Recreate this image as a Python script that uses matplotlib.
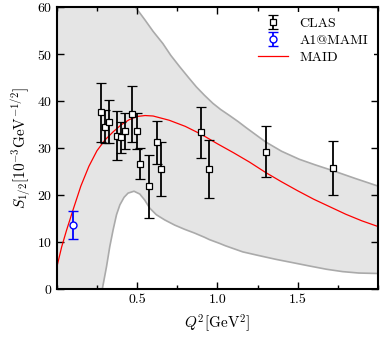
import numpy as np
import matplotlib
matplotlib.use('Agg')
import matplotlib.pyplot as plt
from matplotlib.ticker import MultipleLocator

plt.rcParams['font.family'] = 'serif'
plt.rcParams['font.serif'] = ['cmr10', 'DejaVu Serif']
plt.rcParams['mathtext.fontset'] = 'cm'
plt.rcParams['axes.formatter.use_mathtext'] = True

# CLAS data
clas_q2 = [0.273, 0.30, 0.324, 0.372, 0.397, 0.424, 0.471, 0.50, 0.521, 0.573, 0.624, 0.647, 0.90, 0.951, 1.30, 1.72]
clas_s = [37.7, 34.6, 35.7, 32.7, 32.4, 33.7, 37.3, 33.7, 26.7, 22.0, 31.3, 25.6, 33.4, 25.6, 29.3, 25.9]
clas_err = [6.3, 3.5, 4.6, 5.2, 3.3, 3.8, 6.0, 3.9, 3.3, 6.7, 4.6, 5.8, 5.4, 6.2, 5.4, 5.7]

# A1@MAMI
mami_q2 = [0.1]
mami_s = [13.8]
mami_err = [3.0]

# MAID curve
maid_q2 = [0.0, 0.03, 0.06, 0.1, 0.15, 0.2, 0.25, 0.3, 0.35, 0.4, 0.45, 0.5, 0.55, 0.6, 0.7,
           0.8, 0.9, 1.0, 1.1, 1.2, 1.3, 1.4, 1.5, 1.6, 1.7, 1.8, 1.9, 2.0]
maid_s = [4.7, 9.0, 12.5, 16.8, 22.0, 26.2, 29.5, 31.8, 33.5, 35.0, 36.1, 36.8, 37.0, 36.9, 36.0,
          34.7, 33.0, 31.0, 29.1, 27.1, 24.9, 22.9, 21.0, 19.2, 17.6, 16.0, 14.6, 13.4]

# uncertainty band: lower edge
band_lo_q2 = [0.0, 0.2, 0.23, 0.26, 0.283, 0.31, 0.33, 0.351, 0.372, 0.393, 0.419, 0.444, 0.481,
              0.517, 0.548, 0.579, 0.62, 0.672, 0.734, 0.796, 0.858, 0.92, 0.951, 1.014, 1.05,
              1.158, 1.26, 1.366, 1.47, 1.573, 1.68, 1.78, 1.88, 2.0]
band_lo = [-80.0, -20.0, -12.0, -5.0, 0.0, 4.9, 9.1, 12.7, 15.9, 18.0, 19.6, 20.5, 20.9,
           20.3, 19.0, 17.3, 15.9, 14.8, 13.7, 12.8, 12.0, 11.1, 10.6, 9.8, 9.3,
           8.0, 7.2, 6.4, 5.7, 5.0, 4.3, 3.8, 3.5, 3.4]
# upper edge
band_hi_q2 = [0.0, 0.3, 0.45, 0.5, 0.55, 0.6, 0.661, 0.71, 0.765, 0.82, 0.869, 0.92, 0.972, 1.02,
              1.076, 1.13, 1.18, 1.24, 1.30, 1.40, 1.51, 1.61, 1.717, 1.86, 2.0]
band_hi = [90.0, 72.0, 62.0, 59.6, 57.3, 54.9, 52.3, 49.8, 47.4, 45.1, 43.1, 41.3, 39.6, 38.3,
           37.0, 35.7, 34.4, 32.9, 31.4, 29.4, 27.7, 26.5, 25.3, 23.6, 22.0]

fig = plt.figure(figsize=(3.81, 3.37), dpi=100)
ax = fig.add_axes([0.149, 0.141, 0.843, 0.837])

grid = np.union1d(band_lo_q2, band_hi_q2)
lo = np.interp(grid, band_lo_q2, band_lo)
hi = np.interp(grid, band_hi_q2, band_hi)
ax.fill_between(grid, lo, hi, color='#e5e5e5', lw=0, zorder=0)
ax.plot(band_lo_q2, band_lo, color='#aaaaaa', lw=1.2, zorder=1)
ax.plot(band_hi_q2, band_hi, color='#aaaaaa', lw=1.2, zorder=1)

h1 = ax.errorbar(clas_q2, clas_s, yerr=clas_err, fmt='s', color='black', mfc='white', mec='black',
                 ms=5, mew=0.9, elinewidth=1.3, capsize=3.5, capthick=1.3, label='CLAS', zorder=3)
h2 = ax.errorbar(mami_q2, mami_s, yerr=mami_err, fmt='o', color='blue', mfc='white', mec='blue',
                 ms=5, mew=1.0, elinewidth=1.3, capsize=3.5, capthick=1.3, label='A1@MAMI', zorder=3)
h3, = ax.plot(maid_q2, maid_s, color='red', lw=0.9, label='MAID', zorder=2)

ax.set_xlim(0, 2)
ax.set_ylim(0, 60)
ax.xaxis.set_minor_locator(MultipleLocator(0.25))
ax.yaxis.set_major_locator(MultipleLocator(10))
ax.set_xticks([0.5, 1.0, 1.5])
ax.set_xticklabels(['0.5', '1.0', '1.5'])
ax.tick_params(which='both', direction='in', top=True, right=True, labelsize=10, width=1.0)
ax.tick_params(which='major', length=5)
ax.tick_params(which='minor', length=3)
for s in ax.spines.values():
    s.set_linewidth(1.5)

ax.set_xlabel(r'$Q^2[\mathrm{GeV}^2]$', fontsize=11)
ax.set_ylabel(r'$S_{1/2}[10^{-3}\mathrm{GeV}^{-1/2}]$', fontsize=11, labelpad=2)

ax.legend([h1, h2, h3], ['CLAS', 'A1@MAMI', 'MAID'], loc='upper right', frameon=True,
          edgecolor='none', facecolor='white', framealpha=1, fontsize=10, handlelength=2.2,
          borderaxespad=0.3, labelspacing=0.3)

fig.savefig('out.png', dpi=100)
